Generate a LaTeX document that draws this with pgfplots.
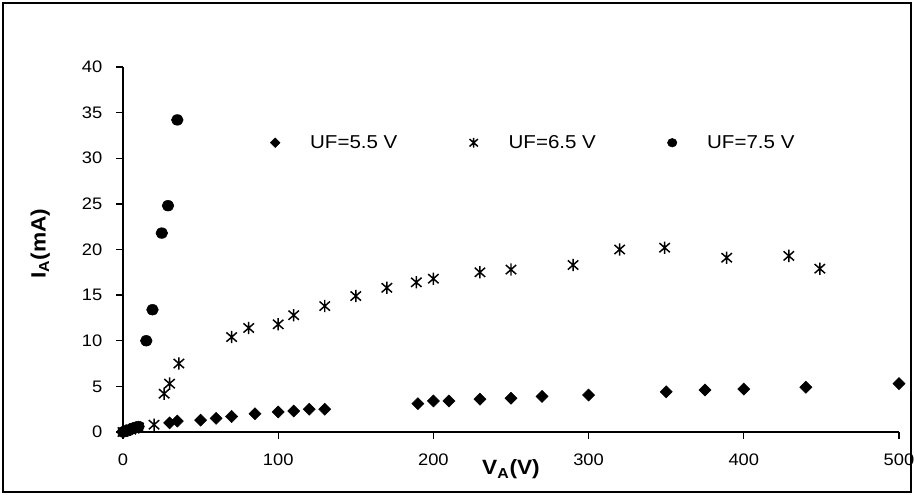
\documentclass[border=0pt]{standalone}
\usepackage{pgfplots}
\pgfplotsset{compat=1.18}
\usepackage{fontspec}
\setmainfont{Liberation Sans}[FakeStretch=1.1]

% star with vertical bar and diagonal cross
\pgfdeclareplotmark{xstar}{%
  \pgfpathmoveto{\pgfqpoint{0pt}{-\pgfplotmarksize}}%
  \pgfpathlineto{\pgfqpoint{0pt}{\pgfplotmarksize}}%
  \pgfpathmoveto{\pgfqpoint{-.85\pgfplotmarksize}{-.75\pgfplotmarksize}}%
  \pgfpathlineto{\pgfqpoint{.85\pgfplotmarksize}{.75\pgfplotmarksize}}%
  \pgfpathmoveto{\pgfqpoint{-.85\pgfplotmarksize}{.75\pgfplotmarksize}}%
  \pgfpathlineto{\pgfqpoint{.85\pgfplotmarksize}{-.75\pgfplotmarksize}}%
  \pgfusepathqstroke}

\begin{document}
\begin{tikzpicture}
\useasboundingbox (-92.25pt,-47.25pt) rectangle (593.25pt,324pt);
\draw[line width=1.5pt] (-90pt,-45pt) rectangle (591pt,321.75pt);
\begin{axis}[
  at={(0pt,0pt)}, anchor=south west,
  width=582pt, height=273.75pt, scale only axis,
  xmin=0, xmax=500, ymin=0, ymax=40,
  xtick={0,100,...,500}, ytick={0,5,...,40},
  axis lines*=left,
  axis line style={line width=1.1pt, -},
  tick align=outside,
  major tick length=5pt,
  tick style={line width=1pt, black},
  /pgf/number format/assume math mode=true,
  tick label style={font=\fontsize{12.5}{14}\selectfont},
  yticklabel style={xshift=-7pt},
  xticklabel style={yshift=-8pt},
  xlabel={\textbf{V\textsubscript{A}(V)}},
  ylabel={\textbf{I\textsubscript{A}(mA)}},
  every axis x label/.style={at={(axis description cs:0.5,0)}, anchor=base, yshift=-32pt,
    font=\fontsize{15.5}{18}\selectfont},
  every axis y label/.style={at={(axis description cs:0,0.516)}, rotate=90, anchor=center, yshift=62pt,
    font=\fontsize{15.5}{18}\selectfont},
  clip=false,
  legend style={draw=none, fill=none, at={(axis cs:90,31.7)}, anchor=west,
    font=\fontsize{14}{16}\selectfont,
    /tikz/every even column/.append style={column sep=49pt}},
  legend columns=3,
  legend image code/.code={%
    \path (0pt,0pt) (30pt,0pt);
    \draw[mark repeat=2,mark phase=2,#1,every mark/.append style={scale=0.8}] plot coordinates {(0pt,0pt) (6pt,0pt) (12pt,0pt)};},
]
\addplot[only marks, mark=square*, mark size=3.2pt, mark options={rotate=45, fill=black}, black] coordinates {
 (0,0.05) (2,0.15) (4,0.25) (6,0.35) (8,0.45)
 (30,1.0) (35,1.2) (50,1.3) (60,1.5) (70,1.7) (85,2.0) (100,2.2) (110,2.3) (120,2.5) (130,2.5)
 (190,3.1) (200,3.4) (210,3.4) (230,3.6) (250,3.7) (270,3.9) (300,4.05)
 (350,4.4) (375,4.6) (400,4.7) (440,4.9) (500,5.3)
};
\addlegendentry{UF=5.5 V}
\addplot[only marks, mark=xstar, mark size=4.6pt, mark options={line width=1.1pt}, black] coordinates {
 (0,0) (5,0.25) (10,0.5) (20,0.8) (26.5,4.2) (30,5.3) (36,7.5)
 (70,10.4) (81,11.4) (100,11.8) (110,12.8) (130,13.8) (150,14.9) (170,15.8)
 (189,16.4) (200,16.8) (230,17.5) (250,17.8) (290,18.3) (320,20.0) (349,20.2)
 (389,19.1) (429,19.3) (449,17.9)
};
\addlegendentry{UF=6.5 V}
\addplot[only marks, mark=*, mark size=4pt, mark options={xscale=1.1, fill=black}, black] coordinates {
 (0,0) (3,0.2) (6,0.4) (8,0.5) (10,0.6)
 (15,10.0) (19,13.4) (25,21.8) (29,24.8) (35,34.2)
};
\addlegendentry{UF=7.5 V}
\end{axis}
\end{tikzpicture}
\end{document}
